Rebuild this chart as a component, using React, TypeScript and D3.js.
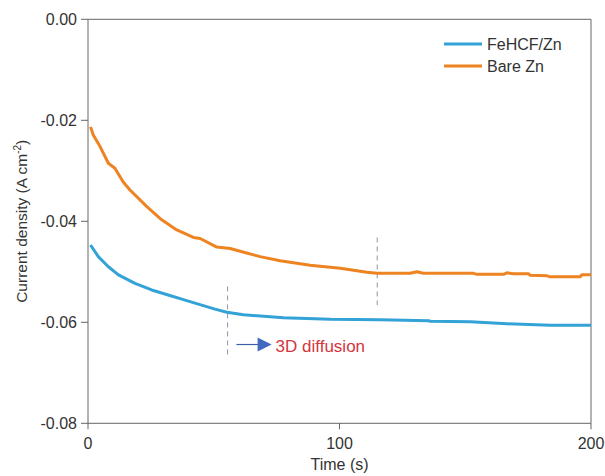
import React from "react";
import * as d3 from "d3";

const bareZnT = [1.0, 2.1, 4.8, 8.1, 10.7, 14.0, 16.7, 23.4, 29.3, 35.3, 41.9, 44.6, 51.2, 56.5, 68.4, 76.4, 88.3, 100.3, 110.9, 114.9, 128.1, 130.8, 133.4, 153.3, 154.6, 165.2, 166.6, 169.1, 175.1, 175.9, 182.5, 183.8, 195.7, 196.4, 200];
const bareZnV = [-0.0213, -0.0229, -0.0252, -0.0285, -0.0295, -0.0322, -0.0338, -0.0371, -0.0397, -0.0417, -0.0432, -0.0434, -0.0451, -0.0454, -0.0470, -0.0478, -0.0487, -0.0493, -0.0501, -0.0503, -0.0503, -0.0500, -0.0503, -0.0503, -0.0505, -0.0505, -0.0502, -0.0504, -0.0504, -0.0507, -0.0508, -0.0510, -0.0510, -0.0506, -0.0506];

const fehcfT = [1.0, 4.1, 8.1, 12.1, 18.7, 25.3, 31.9, 38.6, 45.2, 50.5, 55.2, 61.8, 77.7, 96.3, 116.2, 135.4, 136.1, 152.0, 166.6, 183.8, 200];
const fehcfV = [-0.0447, -0.0470, -0.0490, -0.0506, -0.0523, -0.0536, -0.0546, -0.0556, -0.0566, -0.0574, -0.0580, -0.0585, -0.0591, -0.0594, -0.0595, -0.0597, -0.0598, -0.0599, -0.0603, -0.0606, -0.0606];

const xTicks = [0, 100, 200];
const yTicks = [0, -0.02, -0.04, -0.06, -0.08];
const seriesNames = ["FeHCF/Zn", "Bare Zn"];
const seriesColors = ["#33A2D6", "#EE8322"];
const dashMarkers = [
  { t: 55.5, v0: -0.0529, v1: -0.0667 },
  { t: 115, v0: -0.0432, v1: -0.0566 },
];
const arrowStartT = 59;
const arrowEndT = 73;
const arrowV = -0.0644;

const FONT = "'Liberation Sans', Arial, sans-serif";

export default function App() {
  const width = 605;
  const height = 476;
  const left = 88, right = 591, top = 19.3, bottom = 423.3;
  const x = d3.scaleLinear().domain([0, 200]).range([left, right]);
  const y = d3.scaleLinear().domain([-0.08, 0]).range([bottom, top]);
  const line = d3.line<[number, number]>().x(d => x(d[0])).y(d => y(d[1]));
  const orange = bareZnT.map((t, i) => [t, bareZnV[i]] as [number, number]);
  const blue = fehcfT.map((t, i) => [t, fehcfV[i]] as [number, number]);
  const axisColor = "#666";
  const textColor = "#333";
  const ay = y(arrowV);
  const ax0 = x(arrowStartT);
  const ax1 = x(arrowEndT);
  return (
    <svg width={width} height={height} style={{ position: "absolute", left: 0, top: 0 }} fontFamily={FONT}>
      <rect x={0} y={0} width={width} height={height} fill="#fff" />
      {/* frame */}
      <line x1={left} x2={right} y1={top} y2={top} stroke={axisColor} strokeWidth={1} />
      <line x1={right} x2={right} y1={top} y2={bottom} stroke={axisColor} strokeWidth={1} />
      <line x1={left} x2={left} y1={top} y2={bottom} stroke={axisColor} strokeWidth={1} />
      <line x1={left} x2={right} y1={bottom} y2={bottom} stroke={axisColor} strokeWidth={1} />
      {yTicks.map(v => (
        <g key={v}>
          <line x1={left - 7} x2={left} y1={y(v)} y2={y(v)} stroke={axisColor} />
          <text x={left - 11} y={y(v)} dy="0.35em" textAnchor="end" fontSize={16} fill={textColor}>
            {d3.format(".2f")(v).replace("−", "-")}
          </text>
        </g>
      ))}
      {xTicks.map(v => (
        <g key={v}>
          <line x1={x(v)} x2={x(v)} y1={bottom} y2={bottom + 6} stroke={axisColor} />
          <text x={x(v)} y={449} textAnchor="middle" fontSize={16} fill={textColor}>{v}</text>
        </g>
      ))}
      <text x={(left + right) / 2} y={470} textAnchor="middle" fontSize={16} fill={textColor}>Time (s)</text>
      <text transform={`translate(27,${(top + bottom) / 2}) rotate(-90)`} textAnchor="middle" fontSize={15.5} fill={textColor}>
        Current density (A cm<tspan dy="-6" fontSize={10}>-2</tspan><tspan dy="6">)</tspan>
      </text>
      {/* dashed markers */}
      {dashMarkers.map((d, i) => (
        <line key={i} x1={x(d.t)} x2={x(d.t)} y1={y(d.v0)} y2={y(d.v1)} stroke="#8A94AA" strokeWidth={1} strokeDasharray="5,4" />
      ))}
      {/* curves */}
      <path d={line(blue) || ""} fill="none" stroke={seriesColors[0]} strokeWidth={3} strokeLinejoin="round" />
      <path d={line(orange) || ""} fill="none" stroke={seriesColors[1]} strokeWidth={3} strokeLinejoin="round" />
      {/* arrow annotation */}
      <line x1={ax0} x2={ax1 - 12} y1={ay} y2={ay} stroke="#3A5FA8" strokeWidth={1.2} />
      <path d={`M${ax1 - 14},${ay - 7} L${ax1},${ay} L${ax1 - 14},${ay + 7} Z`} fill="#4169C0" />
      <text x={ax1 + 4} y={ay + 7} fontSize={17} fill="#D4363C">3D diffusion</text>
      {/* legend */}
      {seriesNames.map((n, i) => (
        <g key={n}>
          <line x1={444} x2={482} y1={44 + i * 22} y2={44 + i * 22} stroke={seriesColors[i]} strokeWidth={3} />
          <text x={487} y={44 + i * 22} dy="0.35em" fontSize={16} fill={textColor}>{n}</text>
        </g>
      ))}
    </svg>
  );
}
